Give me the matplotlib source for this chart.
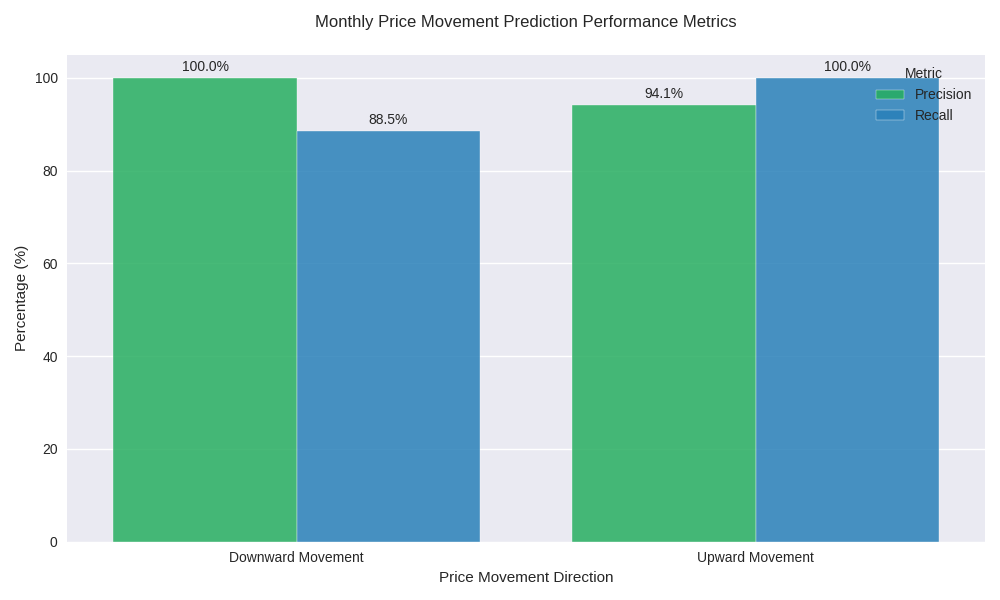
import matplotlib
matplotlib.use('Agg')
import matplotlib.pyplot as plt
import numpy as np

plt.style.use('seaborn-v0_8')
plt.rcParams['font.family'] = ['Liberation Sans', 'DejaVu Sans']

directions = ['Downward Movement', 'Upward Movement']
metrics = ['Precision', 'Recall']
precision = [100.0, 94.1]
recall = [88.5, 100.0]
colors = ['#27ae60', '#2980b9']

fig, ax = plt.subplots(figsize=(10, 6), dpi=100)
x = np.arange(len(directions))
width = 0.4

bars_p = ax.bar(x - width / 2, precision, width, label=metrics[0], color=colors[0], alpha=0.85, edgecolor='white')
bars_r = ax.bar(x + width / 2, recall, width, label=metrics[1], color=colors[1], alpha=0.85, edgecolor='white')

for bars in (bars_p, bars_r):
    for b in bars:
        ax.annotate(f'{b.get_height():.1f}%', (b.get_x() + b.get_width() / 2, b.get_height()),
                    xytext=(0, 3), textcoords='offset points', ha='center', va='bottom', fontsize=10)

ax.set_xticks(x)
ax.set_xticklabels(directions)
ax.set_xlim(-0.5, 1.5)
ax.set_ylim(0, 105)
ax.grid(axis='x', visible=False)
ax.set_xlabel('Price Movement Direction', fontsize=11)
ax.set_ylabel('Percentage (%)', fontsize=11)
ax.set_title('Monthly Price Movement Prediction Performance Metrics', fontsize=12, pad=20)
ax.legend(title='Metric', loc='upper right')

plt.tight_layout()
plt.savefig('out.png', dpi=100)
